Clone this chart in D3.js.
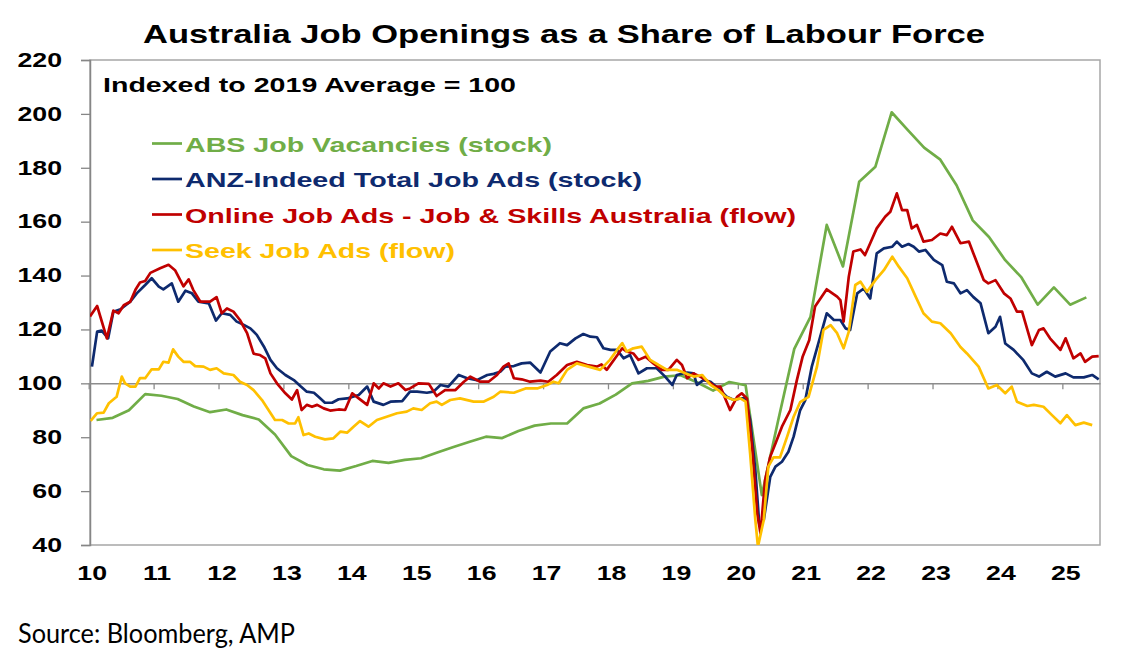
<!DOCTYPE html>
<html>
<head>
<meta charset="utf-8">
<script src="https://cdn.jsdelivr.net/npm/d3@7"></script>
<style>
  html, body { margin: 0; padding: 0; background: #fff; }
  svg { display: block; }
</style>
</head>
<body>
<div id="chart"></div>
<script>
// Australia job openings as a share of labour force, indexed 2019 avg = 100
// x values are decimal years

const yearTicks = [2010, 2011, 2012, 2013, 2014, 2015, 2016, 2017, 2018, 2019, 2020, 2021, 2022, 2023, 2024, 2025];
const valueTicks = [40, 60, 80, 100, 120, 140, 160, 180, 200, 220];

const seriesNames = [
    'ABS Job Vacancies (stock)',
    'ANZ-Indeed Total Job Ads (stock)',
    'Online Job Ads - Job & Skills Australia (flow)',
    'Seek Job Ads (flow)'
];

// quarterly
const absVacancies = [
    [2010.12, 86.4], [2010.37, 87.2], [2010.62, 90.0], [2010.87, 96.0], [2011.12, 95.4], [2011.37, 94.2],
    [2011.62, 91.4], [2011.87, 89.3], [2012.12, 90.3], [2012.37, 88.2], [2012.62, 86.6], [2012.87, 81.0],
    [2013.12, 73.0], [2013.37, 69.7], [2013.62, 68.1], [2013.87, 67.6], [2014.12, 69.3], [2014.37, 71.2],
    [2014.62, 70.5], [2014.87, 71.6], [2015.12, 72.2], [2015.37, 74.3], [2015.62, 76.4], [2015.87, 78.3],
    [2016.12, 80.2], [2016.37, 79.7], [2016.62, 82.3], [2016.87, 84.3], [2017.12, 85.1], [2017.37, 85.1],
    [2017.62, 90.7], [2017.87, 92.5], [2018.12, 95.8], [2018.37, 100.0], [2018.62, 100.9], [2018.87, 102.5],
    [2019.12, 103.0], [2019.37, 100.4], [2019.62, 97.3], [2019.87, 100.5], [2020.12, 99.3], [2020.37, 58.5],
    [2020.62, 86.0], [2020.87, 112.8], [2021.12, 124.7], [2021.37, 158.8], [2021.62, 143.4], [2021.87, 174.8],
    [2022.12, 180.4], [2022.37, 200.6], [2022.62, 194.0], [2022.87, 187.5], [2023.12, 183.0], [2023.37, 173.5],
    [2023.62, 160.5], [2023.87, 154.3], [2024.12, 145.7], [2024.37, 139.3], [2024.62, 129.2], [2024.87, 135.6],
    [2025.12, 129.2], [2025.37, 131.9]
];

const anzIndeed = [
    [2010.05, 106.2], [2010.13, 119.2], [2010.2, 119.6], [2010.3, 116.7], [2010.38, 126.6], [2010.49, 127.5],
    [2010.64, 130.3], [2010.74, 133.4], [2010.87, 136.5], [2010.97, 139.0], [2011.08, 135.9], [2011.15, 134.9],
    [2011.28, 137.1], [2011.38, 130.3], [2011.49, 134.4], [2011.59, 133.4], [2011.69, 130.3], [2011.85, 129.7],
    [2011.96, 123.3], [2012.05, 126.0], [2012.18, 125.4], [2012.28, 122.9], [2012.39, 121.7], [2012.49, 120.4],
    [2012.59, 118.0], [2012.7, 113.6], [2012.8, 108.7], [2012.9, 105.6], [2013.03, 103.1], [2013.16, 101.2],
    [2013.26, 99.0], [2013.36, 96.9], [2013.47, 96.5], [2013.54, 95.0], [2013.64, 92.8], [2013.75, 92.8],
    [2013.85, 94.1], [2013.98, 94.4], [2014.16, 95.7], [2014.29, 98.8], [2014.39, 93.2], [2014.54, 92.0],
    [2014.65, 93.2], [2014.83, 93.4], [2014.95, 96.9], [2015.06, 96.9], [2015.21, 96.5], [2015.31, 96.9],
    [2015.42, 99.4], [2015.54, 98.8], [2015.7, 103.1], [2015.83, 101.9], [2015.98, 101.2], [2016.14, 103.1],
    [2016.24, 103.5], [2016.34, 104.3], [2016.42, 106.2], [2016.55, 106.4], [2016.67, 107.4], [2016.8, 107.7],
    [2016.96, 104.0], [2017.11, 111.8], [2017.26, 114.9], [2017.37, 114.2], [2017.5, 116.7], [2017.62, 118.3],
    [2017.73, 117.3], [2017.83, 117.1], [2017.93, 113.0], [2018.04, 112.4], [2018.14, 112.4], [2018.24, 109.3],
    [2018.34, 110.5], [2018.47, 103.7], [2018.6, 105.6], [2018.75, 105.6], [2018.88, 102.5], [2018.99, 99.4],
    [2019.06, 103.1], [2019.22, 104.0], [2019.32, 103.7], [2019.37, 99.4], [2019.47, 101.2], [2019.58, 100.6],
    [2019.7, 98.1], [2019.83, 95.0], [2019.94, 93.8], [2020.04, 94.4], [2020.12, 94.4], [2020.19, 86.4],
    [2020.27, 67.8], [2020.33, 48.0], [2020.4, 49.3], [2020.5, 65.3], [2020.58, 69.1], [2020.68, 70.9],
    [2020.78, 74.6], [2020.86, 80.2], [2020.96, 90.0], [2021.04, 93.8], [2021.14, 106.2], [2021.27, 117.3],
    [2021.37, 126.0], [2021.48, 123.5], [2021.58, 123.5], [2021.66, 120.4], [2021.73, 119.8], [2021.84, 133.4],
    [2021.94, 135.2], [2022.04, 131.5], [2022.14, 148.2], [2022.25, 150.1], [2022.38, 150.7], [2022.45, 152.6],
    [2022.53, 150.7], [2022.63, 151.7], [2022.71, 150.7], [2022.79, 148.9], [2022.89, 149.5], [2023.02, 145.8],
    [2023.15, 143.9], [2023.22, 137.7], [2023.33, 137.1], [2023.43, 133.4], [2023.53, 134.6], [2023.63, 132.0],
    [2023.74, 129.7], [2023.86, 118.6], [2023.97, 121.0], [2024.04, 124.7], [2024.12, 114.8], [2024.25, 112.4],
    [2024.4, 108.6], [2024.53, 103.7], [2024.64, 102.5], [2024.76, 104.3], [2024.89, 102.5], [2025.05, 103.7],
    [2025.17, 102.2], [2025.33, 102.2], [2025.46, 103.1], [2025.56, 101.5]
];

const onlineJobAds = [
    [2010.02, 124.8], [2010.13, 128.7], [2010.28, 116.7], [2010.38, 127.0], [2010.46, 126.0], [2010.54, 129.0],
    [2010.64, 130.3], [2010.72, 134.7], [2010.79, 137.4], [2010.87, 138.0], [2010.95, 141.0], [2011.1, 142.7],
    [2011.23, 144.0], [2011.33, 142.0], [2011.46, 136.0], [2011.54, 138.6], [2011.61, 134.7], [2011.72, 130.3],
    [2011.87, 130.3], [2011.97, 132.0], [2012.05, 126.0], [2012.13, 127.8], [2012.23, 126.6], [2012.33, 123.5],
    [2012.44, 118.6], [2012.54, 111.0], [2012.64, 110.5], [2012.72, 109.3], [2012.8, 103.7], [2012.9, 100.0],
    [2013.03, 96.3], [2013.13, 94.0], [2013.21, 97.5], [2013.28, 90.1], [2013.36, 92.0], [2013.44, 91.3],
    [2013.52, 92.0], [2013.62, 90.7], [2013.72, 89.9], [2013.85, 90.3], [2013.95, 90.1], [2014.06, 96.3],
    [2014.16, 94.4], [2014.29, 92.0], [2014.39, 100.0], [2014.47, 98.1], [2014.54, 100.0], [2014.65, 98.8],
    [2014.77, 100.0], [2014.88, 97.5], [2014.95, 98.1], [2015.08, 100.0], [2015.24, 99.8], [2015.36, 95.3],
    [2015.49, 97.5], [2015.65, 97.5], [2015.78, 100.6], [2015.88, 102.5], [2016.03, 100.6], [2016.16, 100.6],
    [2016.29, 103.1], [2016.39, 106.2], [2016.47, 107.4], [2016.55, 101.9], [2016.67, 101.5], [2016.8, 100.6],
    [2016.96, 101.0], [2017.08, 100.6], [2017.21, 103.1], [2017.37, 106.8], [2017.52, 108.0], [2017.68, 106.8],
    [2017.83, 106.2], [2017.9, 107.0], [2017.98, 105.0], [2018.11, 109.3], [2018.22, 113.0], [2018.29, 111.8],
    [2018.39, 111.1], [2018.47, 108.7], [2018.58, 109.9], [2018.7, 107.4], [2018.83, 105.0], [2018.93, 105.0],
    [2019.06, 108.7], [2019.14, 106.8], [2019.22, 101.9], [2019.32, 103.7], [2019.42, 102.5], [2019.55, 100.6],
    [2019.65, 98.8], [2019.73, 98.8], [2019.88, 90.1], [2019.99, 95.0], [2020.06, 96.3], [2020.14, 94.4],
    [2020.22, 76.4], [2020.3, 51.7], [2020.35, 44.3], [2020.42, 64.0], [2020.5, 72.8], [2020.58, 77.7],
    [2020.68, 83.9], [2020.81, 90.1], [2020.91, 101.2], [2021.0, 110.0], [2021.1, 116.0], [2021.19, 128.5],
    [2021.37, 134.9], [2021.53, 132.2], [2021.58, 130.9], [2021.63, 122.9], [2021.71, 139.6], [2021.78, 148.9],
    [2021.89, 149.7], [2021.96, 147.6], [2022.04, 152.0], [2022.14, 157.5], [2022.27, 161.8], [2022.35, 163.7],
    [2022.45, 170.5], [2022.53, 164.3], [2022.61, 164.3], [2022.68, 157.5], [2022.76, 158.8], [2022.86, 152.6],
    [2022.99, 153.2], [2023.12, 155.6], [2023.22, 155.0], [2023.3, 158.1], [2023.43, 152.0], [2023.56, 152.6],
    [2023.63, 148.2], [2023.79, 138.3], [2023.86, 137.1], [2023.97, 138.3], [2024.1, 133.4], [2024.2, 131.5],
    [2024.3, 126.6], [2024.38, 126.6], [2024.53, 114.2], [2024.64, 119.8], [2024.71, 120.4], [2024.81, 116.7],
    [2024.97, 112.4], [2025.05, 116.7], [2025.17, 109.3], [2025.28, 111.1], [2025.35, 108.0], [2025.46, 109.9],
    [2025.56, 110.1]
];

const seekJobAds = [
    [2010.03, 86.1], [2010.13, 88.9], [2010.23, 89.1], [2010.31, 92.6], [2010.43, 95.0], [2010.51, 102.5],
    [2010.56, 100.0], [2010.64, 98.8], [2010.72, 98.8], [2010.79, 101.9], [2010.87, 101.9], [2010.97, 105.2],
    [2011.08, 105.2], [2011.15, 108.0], [2011.23, 107.7], [2011.3, 112.6], [2011.38, 109.9], [2011.46, 108.0],
    [2011.56, 108.0], [2011.64, 106.4], [2011.77, 106.2], [2011.87, 105.0], [2011.97, 105.6], [2012.08, 103.7],
    [2012.23, 103.1], [2012.33, 100.6], [2012.44, 99.4], [2012.54, 97.5], [2012.67, 93.8], [2012.77, 90.1],
    [2012.87, 86.4], [2012.98, 86.4], [2013.08, 85.1], [2013.18, 85.1], [2013.23, 87.4], [2013.31, 80.8],
    [2013.39, 81.4], [2013.49, 80.2], [2013.64, 79.2], [2013.77, 79.6], [2013.88, 82.1], [2013.98, 81.7],
    [2014.08, 83.9], [2014.18, 86.0], [2014.31, 83.9], [2014.44, 86.4], [2014.59, 87.6], [2014.75, 88.9],
    [2014.9, 89.5], [2015.0, 90.7], [2015.13, 90.1], [2015.26, 92.6], [2015.36, 93.2], [2015.44, 92.0],
    [2015.57, 93.8], [2015.72, 94.4], [2015.93, 93.2], [2016.08, 93.2], [2016.24, 95.0], [2016.34, 96.9],
    [2016.55, 96.5], [2016.73, 98.1], [2016.91, 98.1], [2017.06, 99.4], [2017.16, 100.6], [2017.24, 100.0],
    [2017.37, 105.0], [2017.52, 107.4], [2017.7, 106.2], [2017.88, 105.0], [2018.03, 108.7], [2018.14, 112.4],
    [2018.22, 114.9], [2018.29, 111.8], [2018.39, 113.0], [2018.52, 113.6], [2018.65, 108.7], [2018.78, 106.8],
    [2018.91, 105.0], [2019.06, 105.0], [2019.19, 103.7], [2019.32, 102.5], [2019.45, 103.1], [2019.58, 99.4],
    [2019.7, 97.5], [2019.81, 95.0], [2019.94, 93.8], [2020.04, 94.4], [2020.12, 93.2], [2020.19, 73.9],
    [2020.27, 49.3], [2020.31, 39.4], [2020.4, 49.3], [2020.47, 69.1], [2020.55, 72.5], [2020.65, 72.5],
    [2020.76, 80.2], [2020.86, 87.6], [2020.96, 93.0], [2021.09, 95.0], [2021.22, 106.2], [2021.32, 119.8],
    [2021.43, 121.6], [2021.53, 118.6], [2021.63, 113.0], [2021.71, 119.2], [2021.81, 136.5], [2021.89, 137.7],
    [2021.99, 134.0], [2022.12, 138.3], [2022.25, 142.0], [2022.38, 147.0], [2022.48, 143.3], [2022.61, 139.0],
    [2022.74, 132.2], [2022.86, 126.0], [2022.99, 122.9], [2023.12, 122.3], [2023.28, 118.6], [2023.43, 113.5],
    [2023.53, 111.1], [2023.71, 106.2], [2023.86, 98.1], [2023.99, 99.4], [2024.12, 96.3], [2024.22, 98.8],
    [2024.3, 93.2], [2024.46, 91.6], [2024.56, 92.0], [2024.71, 91.3], [2024.84, 88.2], [2024.97, 85.2],
    [2025.07, 88.2], [2025.2, 84.5], [2025.33, 85.4], [2025.46, 84.5]
];

const seriesData = [absVacancies, anzIndeed, onlineJobAds, seekJobAds];
const seriesColors = ['#70AD47', '#0E2A6E', '#C00000', '#FFC000'];
// widths the legend entries take in the original (its text is drawn wide)
const legendWidths = [367, 457, 611, 270];

const width = 1124;
const height = 661;
const margin = { top: 60, right: 24, bottom: 116, left: 90 };
const innerW = width - margin.left - margin.right;   // 1010
const innerH = height - margin.top - margin.bottom;  // 485
const textStretch = 1.37;

const svg = d3.select('#chart')
    .append('svg')
    .attr('width', width)
    .attr('height', height)
    .style('font-family', '"Liberation Sans", Arial, sans-serif');

// widen text glyphs the way the source image does
function stretch(sel, k) {
    sel.each(function () {
        const w = this.getComputedTextLength();
        d3.select(this)
            .attr('textLength', w * k)
            .attr('lengthAdjust', 'spacingAndGlyphs');
    });
}

const x = d3.scaleLinear()
    .domain([2010.02, 2025.58])
    .range([0, innerW]);

const y = d3.scaleLinear()
    .domain([40, 220])
    .range([innerH, 0]);

const g = svg.append('g')
    .attr('transform', `translate(${margin.left},${margin.top})`);

// plot frame
g.append('rect')
    .attr('width', innerW)
    .attr('height', innerH)
    .attr('fill', 'none')
    .attr('stroke', '#A6A6A6')
    .attr('stroke-width', 1.5);

// y axis
const yAxis = g.append('g')
    .call(d3.axisLeft(y).tickValues(valueTicks).tickSize(9).tickPadding(19));
yAxis.select('.domain').attr('stroke', '#868686').attr('stroke-width', 1.5);
yAxis.selectAll('.tick line').attr('stroke', '#868686').attr('stroke-width', 1.3);
yAxis.selectAll('.tick text')
    .attr('font-size', 19.5)
    .attr('font-weight', 'bold')
    .attr('fill', '#000')
    .style('font-family', '"Liberation Sans", Arial, sans-serif')
    .call(stretch, textStretch);

// x axis line at 100 with ticks hanging below
const xLine = g.append('g')
    .attr('transform', `translate(0,${y(100)})`)
    .call(d3.axisBottom(x).tickValues(yearTicks).tickSize(6).tickSizeOuter(0).tickFormat(''));
xLine.select('.domain').attr('stroke', '#8C8C8C').attr('stroke-width', 1.5);
xLine.selectAll('.tick line').attr('stroke', '#8C8C8C').attr('stroke-width', 1.3);

// x labels at the bottom
const xLabels = g.append('g')
    .attr('transform', `translate(3,${innerH})`)
    .call(d3.axisBottom(x).tickValues(yearTicks).tickSize(0).tickPadding(21)
        .tickFormat(d => String(d).slice(2)));
xLabels.select('.domain').remove();
xLabels.selectAll('.tick text')
    .attr('font-size', 19.5)
    .attr('font-weight', 'bold')
    .attr('fill', '#000')
    .style('font-family', '"Liberation Sans", Arial, sans-serif')
    .call(stretch, textStretch);

// clip so the 2020 dip stops at the bottom edge
svg.append('defs').append('clipPath')
    .attr('id', 'plot-clip')
    .append('rect')
    .attr('width', innerW)
    .attr('height', innerH);

const line = d3.line()
    .x(d => x(d[0]))
    .y(d => y(d[1]));

g.append('g')
    .attr('clip-path', 'url(#plot-clip)')
    .selectAll('path')
    .data(seriesData)
    .enter()
    .append('path')
    .attr('d', line)
    .attr('fill', 'none')
    .attr('stroke', (d, i) => seriesColors[i])
    .attr('stroke-width', 2.7)
    .attr('stroke-linejoin', 'round');

// title
svg.append('text')
    .attr('x', 564)
    .attr('y', 43)
    .attr('text-anchor', 'middle')
    .attr('font-size', 25)
    .attr('font-weight', 'bold')
    .attr('textLength', 842)
    .attr('lengthAdjust', 'spacingAndGlyphs')
    .text('Australia Job Openings as a Share of Labour Force');

svg.append('text')
    .attr('x', 103)
    .attr('y', 91.5)
    .attr('font-size', 20.5)
    .attr('font-weight', 'bold')
    .attr('textLength', 413)
    .attr('lengthAdjust', 'spacingAndGlyphs')
    .text('Indexed to 2019 Average = 100');

// legend
const legend = svg.append('g')
    .selectAll('g')
    .data(seriesNames)
    .enter()
    .append('g')
    .attr('transform', (d, i) => `translate(152,${151.5 + i * 35.5})`);

legend.append('line')
    .attr('x1', 0)
    .attr('x2', 30)
    .attr('y1', -8)
    .attr('y2', -8)
    .attr('stroke', (d, i) => seriesColors[i])
    .attr('stroke-width', 2.7);

legend.append('text')
    .attr('x', 33)
    .attr('font-size', 20.5)
    .attr('font-weight', 'bold')
    .attr('fill', (d, i) => seriesColors[i])
    .attr('textLength', (d, i) => legendWidths[i])
    .attr('lengthAdjust', 'spacingAndGlyphs')
    .text(d => d);

// source note
svg.append('text')
    .attr('x', 18)
    .attr('y', 643)
    .attr('font-size', 26)
    .attr('textLength', 277)
    .attr('lengthAdjust', 'spacingAndGlyphs')
    .style('font-family', 'Lato, "Open Sans", sans-serif')
    .text('Source: Bloomberg, AMP');
</script>
</body>
</html>
